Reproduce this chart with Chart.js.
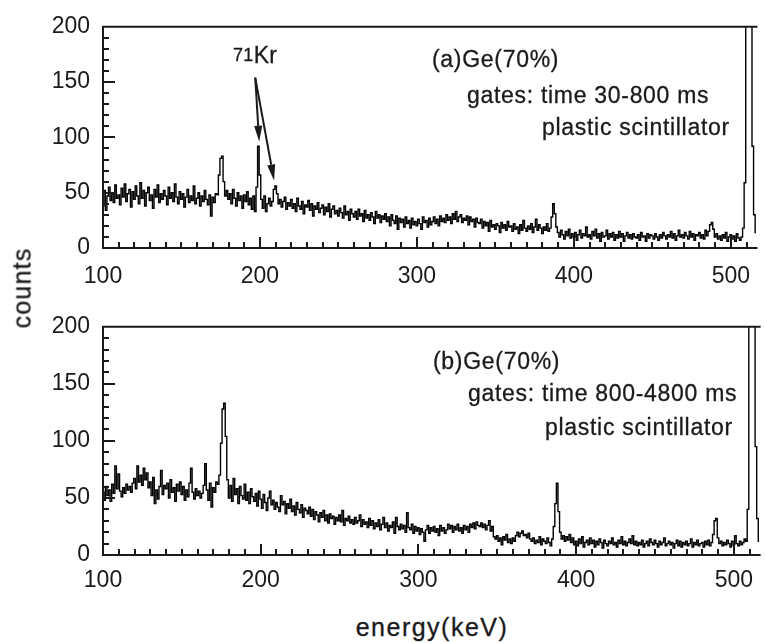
<!DOCTYPE html>
<html>
<head>
<meta charset="utf-8">
<title>Ge(70%) gated spectra</title>
<script src="https://cdn.jsdelivr.net/npm/chart.js@4.4.0/dist/chart.umd.min.js"></script>
<style>
  body { margin: 0; background: #fff; }
  #wrap { position: relative; width: 765px; height: 643px; overflow: hidden;
          font-family: 'Liberation Sans', Arial, sans-serif; color: #1a1a1a; }
  canvas { position: absolute; left: 0; }
  .lbl { position: absolute; font-size: 23px; line-height: 23px; white-space: nowrap;
         letter-spacing: 0.7px; -webkit-text-stroke: 0.3px #1a1a1a; }
</style>
</head>
<body>
<div id="wrap">
  <canvas id="specA" width="765" height="300" style="top:0"></canvas>
  <canvas id="specB" width="765" height="300" style="top:300px"></canvas>

  <div class="lbl" style="left:233px;top:44px;letter-spacing:0.3px"><span style="font-size:18px;position:relative;top:-2px">71</span>Kr</div>
  <div class="lbl" style="left:432px;top:48px">(a)Ge(70%)</div>
  <div class="lbl" style="left:467px;top:84px">gates: time 30-800 ms</div>
  <div class="lbl" style="left:542px;top:116px">plastic scintillator</div>

  <div class="lbl" style="left:433px;top:350px">(b)Ge(70%)</div>
  <div class="lbl" style="left:468px;top:382px">gates: time 800-4800 ms</div>
  <div class="lbl" style="left:545px;top:416px">plastic scintillator</div>

  <div class="lbl" style="left:22px;top:288px;font-size:25px;letter-spacing:1.2px;transform:translate(-50%,-50%) rotate(-90deg)">counts</div>
  <div class="lbl" style="left:432px;top:616px;font-size:25px;letter-spacing:1.5px;transform:translateX(-50%)">energy(keV)</div>
</div>

<script>
// 1 keV channels, first channel at 100 keV
const energyStart = 100;

// gate 30-800 ms
const countsEarly = [
  38, 52, 34, 47, 55, 43, 50, 41, 57, 45,
  48, 39, 54, 46, 58, 42, 49, 53, 37, 51,
  44, 56, 47, 40, 59, 45, 52, 38, 50, 55,
  43, 48, 36, 53, 46, 57, 41, 49, 44, 52,
  47, 39, 55, 45, 50, 42, 58, 46, 40, 51,
  44, 49, 37, 46, 53, 41, 47, 43, 56, 40,
  45, 50, 38, 47, 42, 52, 44, 39, 48, 29,
  46, 41, 49, 48, 66, 81, 83, 60, 47, 52,
  44, 49, 40, 53, 45, 38, 50, 43, 47, 36,
  48, 42, 51, 39, 45, 35, 47, 33, 55, 92,
  66, 44, 36, 47, 33, 40, 45, 38, 42, 53,
  56, 49, 40, 44, 37, 42, 46, 35, 41, 38,
  44, 36, 40, 33, 45, 38, 35, 42, 31, 39,
  37, 43, 34, 40, 29, 38, 35, 41, 32, 36,
  39, 30, 37, 33, 40, 28, 35, 38, 31, 34,
  29, 36, 32, 27, 38, 30, 33, 25, 35, 31,
  28, 33, 26, 35, 29, 31, 24, 34, 27, 30,
  25, 32, 28, 22, 33, 27, 30, 23, 29, 26,
  31, 24, 28, 20, 30, 25, 22, 29, 17, 27,
  23, 26, 19, 28, 22, 25, 18, 27, 21, 24,
  20, 26, 22, 17, 28, 23, 25, 19, 27, 21,
  24, 28, 22, 26, 20, 29, 24, 27, 23, 30,
  25, 28, 22, 31, 26, 33, 24, 28, 30, 23,
  27, 25, 29, 21, 28, 24, 26, 19, 27, 23,
  22, 26, 18, 24, 20, 23, 15, 25, 19, 21,
  17, 22, 20, 14, 23, 18, 21, 16, 24, 19,
  20, 15, 22, 17, 19, 13, 21, 16, 25, 18,
  15, 20, 17, 22, 14, 19, 26, 16, 21, 18,
  13, 19, 16, 22, 15, 18, 28, 40, 31, 19,
  14, 10, 16, 12, 8, 15, 11, 17, 9, 13,
  10, 14, 7, 12, 16, 9, 13, 11, 19, 10,
  12, 8, 15, 11, 17, 9, 13, 6, 14, 10,
  11, 16, 8, 13, 10, 14, 7, 12, 9, 15,
  10, 13, 6, 11, 14, 9, 12, 8, 13, 10,
  9, 12, 7, 14, 10, 11, 6, 13, 9, 12,
  11, 8, 13, 10, 7, 12, 9, 14, 11, 8,
  12, 10, 15, 9, 13, 7, 11, 16, 10, 12,
  9, 14, 11, 8, 15, 10, 13, 7, 12, 11,
  14, 9, 12, 8, 16, 11, 15, 21, 23, 17,
  10, 13, 8, 11, 7, 12, 9, 14, 6, 10,
  12, 8, 11, 6, 13, 9, 7, 10, 18, 59,
  250, 250, 250, 250, 92, 30, 14
];

// gate 800-4800 ms
const countsLate = [
  55, 48, 60, 52, 57, 47, 62, 54, 78, 58,
  71, 56, 51, 59, 54, 62, 57, 60, 55, 63,
  67, 58, 78, 64, 70, 61, 76, 66, 72, 59,
  64, 52, 68, 45, 57, 49, 60, 74, 53, 61,
  58, 63, 50, 66, 55, 59, 47, 62, 56, 64,
  53, 60, 48, 57, 51, 63, 76, 55, 49, 58,
  52, 56, 50, 54, 61, 80, 57, 48, 63, 42,
  59, 55, 64, 62, 70, 98, 128, 133, 104, 66,
  50, 61, 47, 67, 53, 58, 45, 60, 52, 49,
  62, 48, 55, 45, 58, 51, 47, 54, 43, 56,
  49, 41, 53, 46, 39, 50, 56, 44, 48, 40,
  46, 42, 38, 52, 44, 47, 36, 45, 41, 49,
  38, 43, 35, 46, 40, 37, 44, 33, 41, 39,
  36, 42, 34, 40, 31, 38, 35, 29, 37, 33,
  39, 30, 35, 28, 36, 32, 34, 27, 33, 30,
  35, 29, 39, 26, 32, 30, 34, 28, 31, 27,
  33, 28, 30, 35, 25, 31, 27, 29, 24, 32,
  26, 30, 23, 28, 25, 31, 22, 27, 33, 24,
  28, 21, 26, 24, 29, 19, 33, 25, 22, 27,
  23, 26, 20, 37, 24, 22, 27, 19, 25, 21,
  24, 18, 23, 20, 12, 22, 26, 19, 24, 21,
  25, 20, 23, 17, 26, 21, 24, 19, 22, 27,
  23, 26, 20, 25, 22, 27, 21, 24, 19, 26,
  22, 25, 20, 27, 24, 28, 23, 29, 26, 25,
  28, 24, 27, 22, 26, 30, 21, 25, 16, 14,
  17, 12, 15, 9, 16, 13, 18, 11, 14, 10,
  15, 12, 17, 20, 16, 19, 21, 17, 18, 15,
  19, 14, 12, 15, 10, 13, 11, 16, 9, 14,
  12, 10, 15, 11, 8, 14, 25, 45, 63, 38,
  20, 14, 17, 12, 16, 13, 18, 11, 15, 9,
  12, 8, 14, 10, 16, 7, 11, 13, 9, 15,
  10, 13, 7, 12, 9, 14, 11, 6, 13, 10,
  8, 12, 10, 15, 9, 11, 7, 13, 10, 16,
  9, 12, 8, 11, 14, 10, 17, 9, 12, 8,
  11, 9, 13, 7, 10, 12, 8, 14, 11, 9,
  13, 10, 7, 12, 9, 11, 15, 8, 10, 12,
  9, 11, 6, 10, 13, 8, 12, 7, 11, 9,
  12, 8, 10, 14, 7, 11, 9, 13, 8, 10,
  11, 7, 12, 9, 13, 8, 11, 18, 30, 32,
  15, 10, 12, 8, 11, 9, 13, 10, 7, 12,
  9, 17, 10, 8, 12, 9, 11, 14, 12, 40,
  250, 250, 250, 250, 95, 32, 12
];

const xTickLabels = [100, 200, 300, 400, 500];
const yTickLabels = [0, 50, 100, 150, 200];

// 71Kr arrows: common tail and the two tips, in (keV, counts)
const arrowTail = [197, 154];
const arrowTips = [[199.5, 96], [209, 61]];

const ink = '#1a1a1a';
const tickFont = { family: "'Liberation Sans', Arial, sans-serif", size: 23 };

// frame on left/top/bottom plus inward tick marks
const frameTicks = {
  id: 'frameTicks',
  afterDatasetsDraw(chart) {
    const { ctx, chartArea: a, scales: { x, y } } = chart;
    ctx.save();
    ctx.strokeStyle = ink;
    ctx.lineWidth = 2;
    ctx.beginPath();
    ctx.moveTo(a.right, a.top);
    ctx.lineTo(a.left, a.top);
    ctx.lineTo(a.left, a.bottom);
    ctx.lineTo(a.right, a.bottom);
    ctx.stroke();

    ctx.lineWidth = 2;
    ctx.beginPath();
    for (let v = 10; v < 200; v += 10) {
      const py = Math.round(y.getPixelForValue(v));
      const len = v % 50 === 0 ? 12 : 6;
      ctx.moveTo(a.left, py);
      ctx.lineTo(a.left + len, py);
    }
    for (let e = 110; e <= 510; e += 10) {
      const px = Math.round(x.getPixelForValue(e));
      const len = e % 100 === 0 ? 11 : 6;
      ctx.moveTo(px, a.bottom);
      ctx.lineTo(px, a.bottom - len);
    }
    ctx.stroke();
    ctx.restore();
  }
};

const krArrows = {
  id: 'krArrows',
  afterDatasetsDraw(chart) {
    const { ctx, scales: { x, y } } = chart;
    const sx = x.getPixelForValue(arrowTail[0]);
    const sy = y.getPixelForValue(arrowTail[1]);
    ctx.save();
    ctx.strokeStyle = ink;
    ctx.fillStyle = ink;
    ctx.lineWidth = 2;
    arrowTips.forEach(([e, c]) => {
      const tx = x.getPixelForValue(e), ty = y.getPixelForValue(c);
      const ang = Math.atan2(ty - sy, tx - sx);
      const hl = 16, hw = 4;
      const bx = tx - hl * Math.cos(ang), by = ty - hl * Math.sin(ang);
      ctx.beginPath();
      ctx.moveTo(sx, sy);
      ctx.lineTo(bx, by);
      ctx.stroke();
      ctx.beginPath();
      ctx.moveTo(tx, ty);
      ctx.lineTo(bx + hw * Math.sin(ang), by - hw * Math.cos(ang));
      ctx.lineTo(bx - hw * Math.sin(ang), by + hw * Math.cos(ang));
      ctx.closePath();
      ctx.fill();
    });
    ctx.restore();
  }
};

function spectrum(canvasId, counts, areaTop, axisHeight, labelPad, extraPlugins) {
  return new Chart(document.getElementById(canvasId), {
    type: 'line',
    data: {
      datasets: [{
        data: counts.map((c, i) => ({ x: energyStart + i, y: c })),
        borderColor: '#000',
        borderWidth: 1.4,
        pointRadius: 0,
        stepped: 'middle',
        fill: false
      }]
    },
    options: {
      responsive: false,
      animation: false,
      layout: { padding: { top: areaTop, left: 0, right: 0, bottom: 0 } },
      plugins: { legend: { display: false }, tooltip: { enabled: false } },
      scales: {
        x: {
          type: 'linear',
          min: 100,
          max: 517,
          afterBuildTicks: s => { s.ticks = xTickLabels.map(v => ({ value: v })); },
          afterFit: s => { s.height = axisHeight; },
          grid: { display: false, drawTicks: false },
          border: { display: false },
          ticks: { font: tickFont, color: ink, padding: labelPad, maxRotation: 0 }
        },
        y: {
          min: 0,
          max: 200,
          afterBuildTicks: s => { s.ticks = yTickLabels.map(v => ({ value: v })); },
          afterFit: s => { s.width = 103; },
          grid: { display: false, drawTicks: false },
          border: { display: false },
          ticks: { font: tickFont, color: ink, padding: 13 }
        }
      }
    },
    plugins: [frameTicks].concat(extraPlugins)
  });
}

spectrum('specA', countsEarly, 19, 52, 15, [krArrows]);
spectrum('specB', countsLate, 24, 45, 12, []);
</script>
</body>
</html>
